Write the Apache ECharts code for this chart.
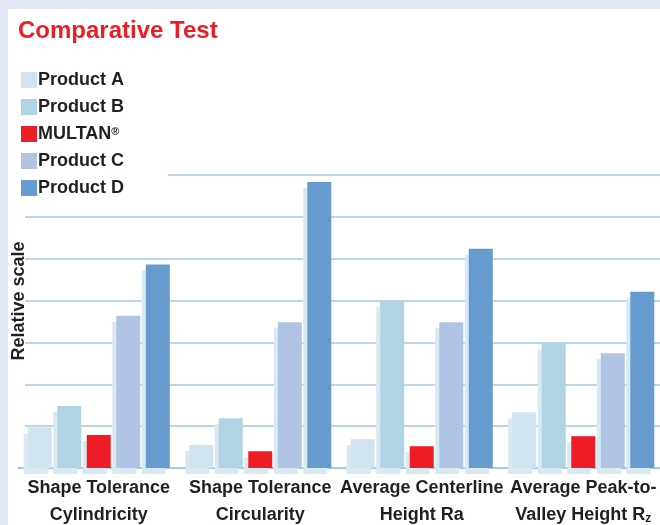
<!DOCTYPE html>
<html>
<head>
<meta charset="utf-8">
<script src="https://cdn.jsdelivr.net/npm/echarts@6/dist/echarts.min.js"></script>
<style>
    html, body { margin: 0; padding: 0; background: #e2e9f4; }
    #chart { position: absolute; left: 8px; top: 9px; width: 652px; height: 516px; background: #fff; }
</style>
</head>
<body>
<div id="chart"></div>
<script>
// 数据
var categories = ['Shape Tolerance\nCylindricity', 'Shape Tolerance\nCircularity', 'Average Centerline\nHeight Ra', 'Average Peak-to-\nValley Height Rz'];
var seriesNames = ['Product A', 'Product B', 'MULTAN®', 'Product C', 'Product D'];
var productA = [0.97, 0.55, 0.69, 1.33];
var productB = [1.48, 1.19, 4.0, 2.98];
var multan = [0.79, 0.40, 0.52, 0.76];
var productC = [3.64, 3.48, 3.48, 2.74];
var productD = [4.86, 6.83, 5.24, 4.21];
var colors = ['#d1e4ee', '#b0d4e3', '#ee1c25', '#b0c5e5', '#669bd0'];

var font = 'Liberation Sans, Arial, Helvetica, sans-serif';
var myChart;

window.onload = function () {
    myChart = echarts.init(document.getElementById('chart'));
    drawBar();
}

function makeSeries(name, data, i) {
    return {
        name: name,
        type: 'bar',
        barWidth: 24,
        barGap: '23%',
        data: data,
        itemStyle: {
            color: colors[i],
            shadowColor: '#d9e9f1',
            shadowBlur: 0,
            shadowOffsetX: -4,
            shadowOffsetY: 6
        }
    };
}

// 柱状图
function drawBar() {
    var allData = [productA, productB, multan, productC, productD];
    var series = [];
    for (var i = 0; i < seriesNames.length; i++) {
        series.push(makeSeries(seriesNames[i], allData[i], i));
    }

    var option = {
        animation: false,
        color: colors,
        title: {
            text: 'Comparative Test',
            left: 10,
            top: 10,
            padding: 0,
            textStyle: {
                color: '#ee1c25',
                fontSize: 24,
                fontWeight: 'bold',
                fontFamily: font
            }
        },
        legend: {
            orient: 'vertical',
            left: 13,
            top: 62,
            padding: 0,
            z: 10,
            itemWidth: 16,
            itemHeight: 16,
            itemGap: 9,
            icon: 'rect',
            selectedMode: false,
            data: seriesNames,
            formatter: function (name) {
                return name === 'MULTAN®' ? 'MULTAN{r|®}' : name;
            },
            textStyle: {
                color: '#231f20',
                fontSize: 18,
                fontWeight: 'bold',
                fontFamily: font,
                lineHeight: 16,
                padding: [0, 0, 0, -4],
                rich: {
                    r: {
                        fontSize: 11,
                        fontWeight: 'bold',
                        fontFamily: font,
                        color: '#231f20',
                        verticalAlign: 'top',
                        lineHeight: 16,
                        padding: [0, 0, 6, 0]
                    }
                }
            }
        },
        grid: {
            left: 10,
            right: -4,
            top: 166,
            bottom: 57,
            outerBoundsMode: 'none',
            containLabel: false
        },
        xAxis: {
            type: 'category',
            data: categories,
            axisLine: {
                lineStyle: { color: '#9cc6dc', width: 1.5 }
            },
            axisTick: { show: false },
            axisLabel: {
                interval: 0,
                margin: 7,
                color: '#231f20',
                fontSize: 18,
                fontWeight: 'bold',
                fontFamily: font,
                lineHeight: 27,
                formatter: function (v) {
                    return v.replace(/Rz$/, 'R{sub|z}');
                },
                rich: {
                    sub: {
                        fontSize: 12,
                        fontWeight: 'bold',
                        fontFamily: font,
                        color: '#231f20',
                        verticalAlign: 'middle',
                        lineHeight: 12,
                        padding: [7, 0, 0, 0]
                    }
                }
            }
        },
        yAxis: {
            type: 'value',
            min: 0,
            max: 7,
            interval: 1,
            axisLine: { show: false },
            axisTick: { show: false },
            axisLabel: { show: false },
            splitLine: {
                lineStyle: { color: '#a6cadc', width: 1.5 }
            }
        },
        graphic: [
            // 遮住网格线左侧
            { type: 'rect', z: 1, shape: { x: 0, y: 162, width: 160, height: 8 }, style: { fill: '#fff' } },
            { type: 'rect', z: 1, shape: { x: 0, y: 170, width: 17, height: 282 }, style: { fill: '#fff' } },
            {
                type: 'text', z: 5, x: 11, y: 292, rotation: Math.PI / 2,
                style: {
                    text: 'Relative scale',
                    fill: '#231f20',
                    font: 'bold 18px ' + font,
                    textAlign: 'center',
                    textVerticalAlign: 'middle'
                }
            }
        ],
        series: series
    };

    myChart.setOption(option);
}
</script>
</body>
</html>
